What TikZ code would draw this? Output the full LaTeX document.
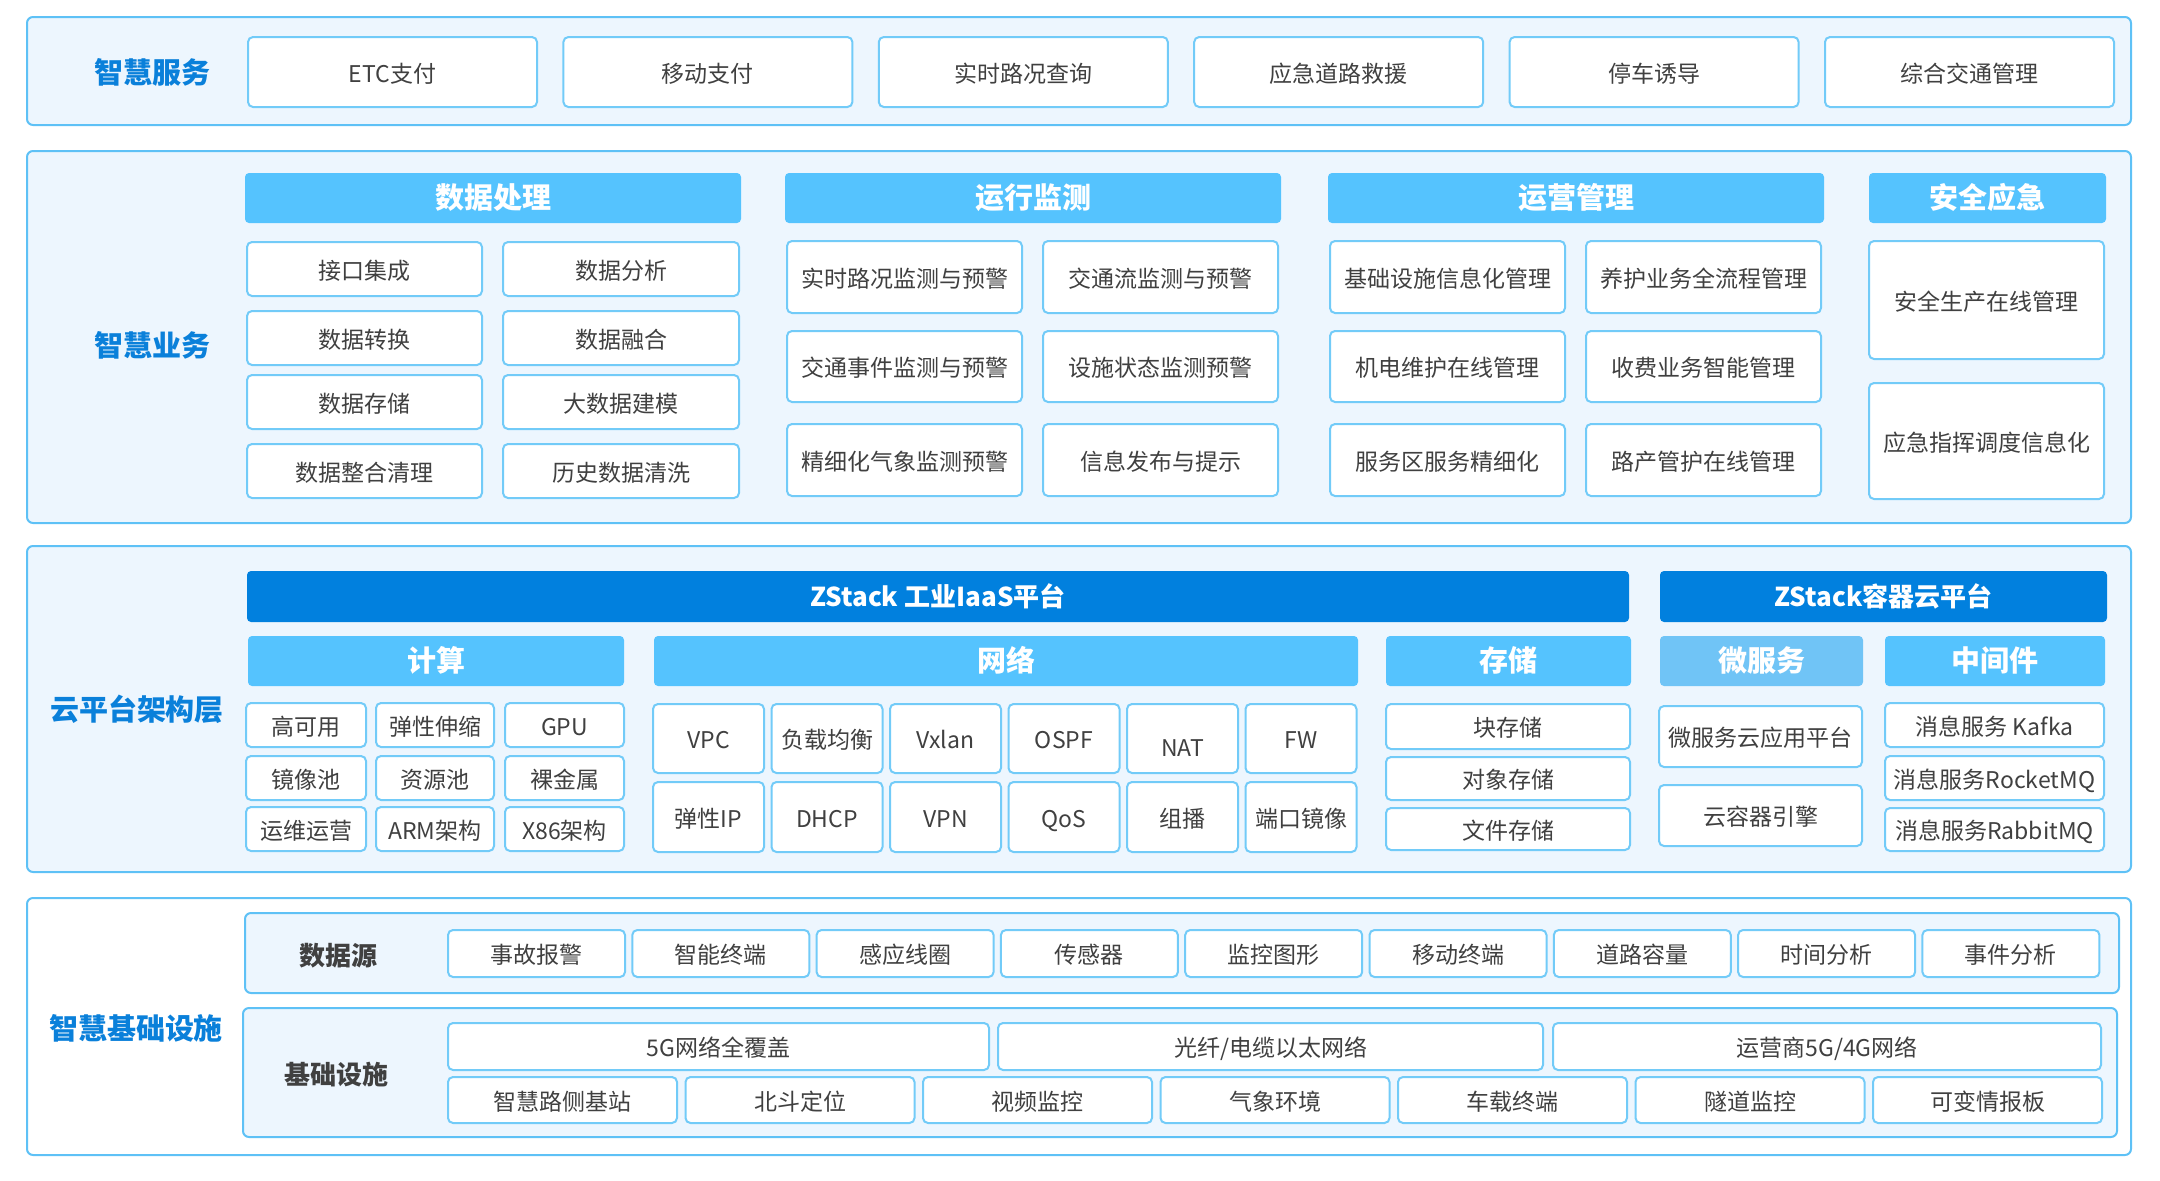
\documentclass[tikz,border=0pt]{standalone}
\usepackage{fontspec}
\setmainfont{Noto Sans CJK SC}
\definecolor{secfill}{HTML}{EDF6FE}
\definecolor{bd}{HTML}{5EC1F6}
\definecolor{itbd}{HTML}{72CBF8}
\definecolor{hdrc}{HTML}{55C3FE}
\definecolor{darkc}{HTML}{0180DE}
\definecolor{msc}{HTML}{70C4F6}
\definecolor{lblc}{HTML}{0A80DA}
\definecolor{txt}{HTML}{404040}
\newcommand\bx[7]{\node[#1, minimum width={((#5)-(#3))*0.5pt}, minimum height={((#6)-(#4))*0.5pt}] (#2) at ({((#3)+(#5))/2},{((#4)+(#6))/2}) {#7};}
\tikzset{
  sect/.style={draw=bd, fill=secfill, line width=1pt, rounded corners=3pt, inner sep=0pt},
  sectw/.style={draw=bd, fill=white, line width=1pt, rounded corners=3pt, inner sep=0pt},
  item/.style={draw=itbd, fill=white, line width=1pt, rounded corners=2.5pt, inner sep=0pt, text=txt,
    font=\fontsize{11.5}{13}\selectfont, text height=1.0em, text depth=0em},
  hdr/.style={fill=hdrc, rounded corners=2pt, inner sep=0pt, text=white,
    font=\bfseries\fontsize{14.5}{16}\selectfont, text height=1.0em, text depth=0em},
  hdrm/.style={hdr, fill=msc},
  dark/.style={fill=darkc, rounded corners=2pt, inner sep=0pt, text=white,
    font=\bfseries\fontsize{13}{15}\selectfont, text height=1.0em, text depth=0em},
  lbl/.style={text=lblc, inner sep=0pt, font=\bfseries\fontsize{14.5}{16}\selectfont, text height=0.95em, text depth=0.03em},
  sublbl/.style={text=txt, inner sep=0pt, font=\bfseries\fontsize{13}{15}\selectfont, text height=0.9em, text depth=0.04em}
}
\begin{document}
\begin{tikzpicture}[x=0.5pt, y=-0.5pt]
\useasboundingbox (0,0) rectangle (2160,1180);
% ---------- 智慧服务 ----------
\bx{sect}{s1}{27}{17}{2131}{125}{}
\node[lbl] (l1) at (152,74) {智慧服务};
\foreach \t [count=\i from 0] in {ETC支付,移动支付,实时路况查询,应急道路救援,停车诱导,综合交通管理}{
  \pgfmathsetmacro\xa{248+\i*315.4}\pgfmathsetmacro\xb{\xa+289}
  \bx{item}{sv\i}{\xa}{37}{\xb}{107}{\t}
}
% ---------- 智慧业务 ----------
\bx{sect}{s2}{27}{151}{2131}{523}{}
\node[lbl] (l2) at (152,347) {智慧业务};
\bx{hdr}{h1}{245}{173}{741}{223}{数据处理}
\bx{hdr}{h2}{785}{173}{1281}{223}{运行监测}
\bx{hdr}{h3}{1328}{173}{1824}{223}{运营管理}
\bx{hdr}{h4}{1869}{173}{2106}{223}{安全应急}
% 数据处理
\foreach \ya/\yb/\ta/\tb [count=\i] in {242/296/接口集成/数据分析, 311/365/数据转换/数据融合, 375/429/数据存储/大数据建模, 444/498/数据整合清理/历史数据清洗}{
  \bx{item}{dp\i a}{247}{\ya}{482}{\yb}{\ta}
  \bx{item}{dp\i b}{503}{\ya}{739}{\yb}{\tb}
}
% 运行监测
\foreach \ya/\yb/\ta/\tb [count=\i] in {241/313/实时路况监测与预警/交通流监测与预警, 331/402/交通事件监测与预警/设施状态监测预警, 424/496/精细化气象监测预警/信息发布与提示}{
  \bx{item}{rm\i a}{787}{\ya}{1022}{\yb}{\ta}
  \bx{item}{rm\i b}{1043}{\ya}{1278}{\yb}{\tb}
}
% 运营管理
\foreach \ya/\yb/\ta/\tb [count=\i] in {241/313/基础设施信息化管理/养护业务全流程管理, 331/402/机电维护在线管理/收费业务智能管理, 424/496/服务区服务精细化/路产管护在线管理}{
  \bx{item}{ym\i a}{1330}{\ya}{1565}{\yb}{\ta}
  \bx{item}{ym\i b}{1586}{\ya}{1821}{\yb}{\tb}
}
% 安全应急
\bx{item}{aq1}{1869}{241}{2104}{359}{安全生产在线管理}
\bx{item}{aq2}{1869}{383}{2104}{499}{应急指挥调度信息化}
% ---------- 云平台架构层 ----------
\bx{sect}{s3}{27}{546}{2131}{872}{}
\node[lbl] (l3) at (137,711) {云平台架构层};
\bx{dark}{iaas}{247}{571}{1629}{622}{ZStack 工业IaaS平台}
\bx{dark}{cont}{1660}{571}{2107}{622}{ZStack容器云平台}
\bx{hdr}{hjs}{248}{636}{624}{686}{计算}
\bx{hdr}{hwl}{654}{636}{1358}{686}{网络}
\bx{hdr}{hcc}{1386}{636}{1631}{686}{存储}
\bx{hdrm}{hwf}{1660}{636}{1863}{686}{微服务}
\bx{hdr}{hzj}{1885}{636}{2105}{686}{中间件}
% 计算
\foreach \ya/\yb/\ta/\tb/\tc [count=\i] in {703/747/高可用/弹性伸缩/GPU, 756/800/镜像池/资源池/裸金属, 807/851/运维运营/ARM架构/X86架构}{
  \bx{item}{js\i a}{246}{\ya}{366}{\yb}{\ta}
  \bx{item}{js\i b}{376}{\ya}{494}{\yb}{\tb}
  \bx{item}{js\i c}{505}{\ya}{624}{\yb}{\tc}
}
% 网络
\foreach \t [count=\i from 0] in {VPC,负载均衡,Vxlan,OSPF,{\raisebox{-0.35em}{NAT}},FW}{
  \pgfmathsetmacro\xa{653+\i*118.5}\pgfmathsetmacro\xb{\xa+111}
  \bx{item}{wa\i}{\xa}{704}{\xb}{773}{\t}
}
\foreach \t [count=\i from 0] in {弹性IP,DHCP,VPN,QoS,组播,端口镜像}{
  \pgfmathsetmacro\xa{653+\i*118.5}\pgfmathsetmacro\xb{\xa+111}
  \bx{item}{wb\i}{\xa}{782}{\xb}{852}{\t}
}
% 存储
\bx{item}{cc1}{1386}{704}{1630}{749}{块存储}
\bx{item}{cc2}{1386}{757}{1630}{800}{对象存储}
\bx{item}{cc3}{1386}{808}{1630}{850}{文件存储}
% 微服务
\bx{item}{wf1}{1659}{706}{1862}{767}{微服务云应用平台}
\bx{item}{wf2}{1659}{785}{1862}{846}{云容器引擎}
% 中间件
\bx{item}{zj1}{1885}{703}{2104}{747}{消息服务 Kafka}
\bx{item}{zj2}{1885}{756}{2104}{800}{消息服务RocketMQ}
\bx{item}{zj3}{1885}{808}{2104}{851}{消息服务RabbitMQ}
% ---------- 智慧基础设施 ----------
\bx{sectw}{s4}{27}{898}{2131}{1155}{}
\node[lbl] (l4) at (136,1030) {智慧基础设施};
\bx{sect}{sjy}{245}{913}{2119}{993}{}
\bx{sect}{jcs}{243}{1008}{2117}{1137}{}
\node[sublbl] (lsj) at (338,957) {数据源};
\node[sublbl] (ljc) at (336,1076) {基础设施};
\foreach \t [count=\i from 0] in {事故报警,智能终端,感应线圈,传感器,监控图形,移动终端,道路容量,时间分析,事件分析}{
  \pgfmathsetmacro\xa{448+\i*184.3}\pgfmathsetmacro\xb{\xa+177}
  \bx{item}{sj\i}{\xa}{930}{\xb}{977}{\t}
}
\bx{item}{net1}{448}{1023}{989}{1070}{5G网络全覆盖}
\bx{item}{net2}{998}{1023}{1543}{1070}{光纤/电缆以太网络}
\bx{item}{net3}{1553}{1023}{2101}{1070}{运营商5G/4G网络}
\foreach \t [count=\i from 0] in {智慧路侧基站,北斗定位,视频监控,气象环境,车载终端,隧道监控,可变情报板}{
  \pgfmathsetmacro\xa{448+\i*237.5}\pgfmathsetmacro\xb{\xa+229}
  \bx{item}{jc\i}{\xa}{1077}{\xb}{1123}{\t}
}
\end{tikzpicture}
\end{document}
